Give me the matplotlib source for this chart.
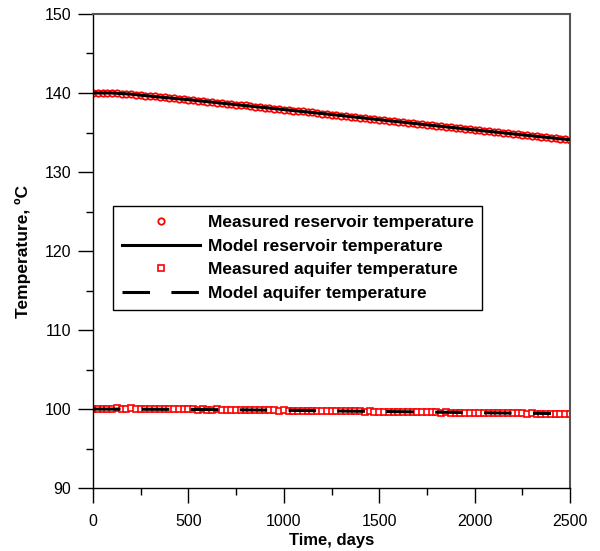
import matplotlib
matplotlib.use("Agg")
import matplotlib.pyplot as plt
from matplotlib.ticker import MultipleLocator

plt.rcParams['font.family'] = ['Liberation Sans', 'DejaVu Sans']

days = [0, 25, 50, 75, 100, 125, 150, 175, 200, 225, 250, 275, 300, 325, 350, 375, 400, 425, 450, 475, 500,
        525, 550, 575, 600, 625, 650, 675, 700, 725, 750, 775, 800, 825, 850, 875, 900, 925, 950, 975, 1000,
        1025, 1050, 1075, 1100, 1125, 1150, 1175, 1200, 1225, 1250, 1275, 1300, 1325, 1350, 1375, 1400, 1425, 1450, 1475, 1500,
        1525, 1550, 1575, 1600, 1625, 1650, 1675, 1700, 1725, 1750, 1775, 1800, 1825, 1850, 1875, 1900, 1925, 1950, 1975, 2000,
        2025, 2050, 2075, 2100, 2125, 2150, 2175, 2200, 2225, 2250, 2275, 2300, 2325, 2350, 2375, 2400, 2425, 2450, 2475, 2500]

measured_reservoir = [140.05, 140.02, 139.98, 140.03, 139.97, 140.0, 139.93, 139.9, 139.84, 139.8, 139.74, 139.66, 139.6, 139.56, 139.5, 139.44, 139.39, 139.34, 139.26, 139.22, 139.15,
                      139.1, 139.02, 138.97, 138.9, 138.86, 138.78, 138.72, 138.66, 138.6, 138.52, 138.47, 138.42, 138.34, 138.28, 138.22, 138.16, 138.1, 138.03, 137.97, 137.9,
                      137.85, 137.77, 137.72, 137.66, 137.58, 137.54, 137.46, 137.4, 137.33, 137.27, 137.2, 137.15, 137.07, 137.02, 136.94, 136.88, 136.82, 136.75, 136.7, 136.62,
                      136.57, 136.49, 136.44, 136.36, 136.3, 136.24, 136.18, 136.1, 136.05, 135.97, 135.92, 135.85, 135.78, 135.73, 135.66, 135.6, 135.52, 135.48, 135.4, 135.33,
                      135.28, 135.2, 135.15, 135.07, 135.02, 134.95, 134.88, 134.83, 134.76, 134.7, 134.63, 134.58, 134.5, 134.45, 134.38, 134.32, 134.26, 134.2, 134.14, 134.08]

measured_aquifer = [100.02, 100.05, 99.98, 100.06, 100.03, 100.08, 100.0, 100.05, 100.07, 100.02, 100.04, 99.99, 100.05, 100.01, 99.98, 100.03, 99.97, 100.0, 99.95, 99.99, 99.94,
                    99.97, 99.92, 99.96, 99.93, 99.9, 99.94, 99.89, 99.92, 99.88, 99.9, 99.86, 99.89, 99.85, 99.87, 99.83, 99.86, 99.82, 99.84, 99.8, 99.82,
                    99.79, 99.81, 99.77, 99.79, 99.76, 99.78, 99.74, 99.76, 99.73, 99.75, 99.71, 99.73, 99.7, 99.72, 99.69, 99.7, 99.67, 99.69, 99.66, 99.67,
                    99.64, 99.66, 99.63, 99.64, 99.61, 99.63, 99.6, 99.61, 99.58, 99.6, 99.57, 99.58, 99.55, 99.57, 99.54, 99.55, 99.52, 99.54, 99.51, 99.52,
                    99.5, 99.51, 99.48, 99.5, 99.47, 99.48, 99.45, 99.47, 99.44, 99.46, 99.43, 99.44, 99.42, 99.43, 99.41, 99.42, 99.4, 99.41, 99.39, 99.4]

model_res_days = [0, 100, 200, 300, 500, 750, 1000, 1250, 1500, 1750, 2000, 2250, 2500]
model_reservoir = [140.0, 140.0, 139.85, 139.6, 139.15, 138.52, 137.9, 137.27, 136.62, 135.97, 135.33, 134.7, 134.08]

model_aq_days = [0, 500, 1000, 1500, 2000, 2400]
model_aquifer = [100.0, 99.95, 99.84, 99.69, 99.54, 99.43]

labels = ["Measured reservoir temperature", "Model reservoir temperature",
          "Measured aquifer temperature", "Model aquifer temperature"]

fig = plt.figure(figsize=(6.0, 5.51), dpi=100)
ax = fig.add_axes([0.155, 0.1143, 0.795, 0.8603])

h1, = ax.plot(days, measured_reservoir, linestyle='none', marker='o', markersize=4.6,
              markerfacecolor='white', markeredgecolor='red', markeredgewidth=1.3, zorder=2)
h2, = ax.plot(model_res_days, model_reservoir, color='black', linewidth=2.2, zorder=3)
h3, = ax.plot(days, measured_aquifer, linestyle='none', marker='s', markersize=4.2,
              markerfacecolor='white', markeredgecolor='red', markeredgewidth=1.2, zorder=2)
h4, = ax.plot(model_aq_days, model_aquifer, color='black', linewidth=2.2, dashes=(9, 7), zorder=3)

ax.set_xlim(0, 2500)
ax.set_ylim(90, 150)
ax.xaxis.set_major_locator(MultipleLocator(500))
ax.xaxis.set_minor_locator(MultipleLocator(250))
ax.yaxis.set_major_locator(MultipleLocator(10))
ax.yaxis.set_minor_locator(MultipleLocator(5))
ax.tick_params(which='major', direction='out', length=10.5, width=1, labelsize=11.5, pad=5, colors='black')
ax.tick_params(axis='x', which='major', pad=8)
ax.tick_params(which='minor', direction='out', length=5, width=1)
ax.tick_params(top=False, right=False)

for s in ['left', 'bottom']:
    ax.spines[s].set_color('black')
    ax.spines[s].set_linewidth(1)
for s in ['top', 'right']:
    ax.spines[s].set_color('#555555')
    ax.spines[s].set_linewidth(1.5)

ax.set_xlabel("Time, days", fontsize=12, fontweight='bold', labelpad=3)
ax.set_ylabel("Temperature, ºC", fontsize=12.5, fontweight='bold', labelpad=10)

leg = ax.legend([h1, h2, h3, h4], labels, loc='upper left', bbox_to_anchor=(0.042, 0.595),
                frameon=True, fancybox=False, edgecolor='black', framealpha=1,
                prop={'weight': 'bold', 'size': 12.5}, handlelength=4.5, handletextpad=0.45,
                labelspacing=0.5, borderpad=0.5, borderaxespad=0, numpoints=1)
leg.get_frame().set_linewidth(1.0)

fig.savefig("out.png", dpi=100)
